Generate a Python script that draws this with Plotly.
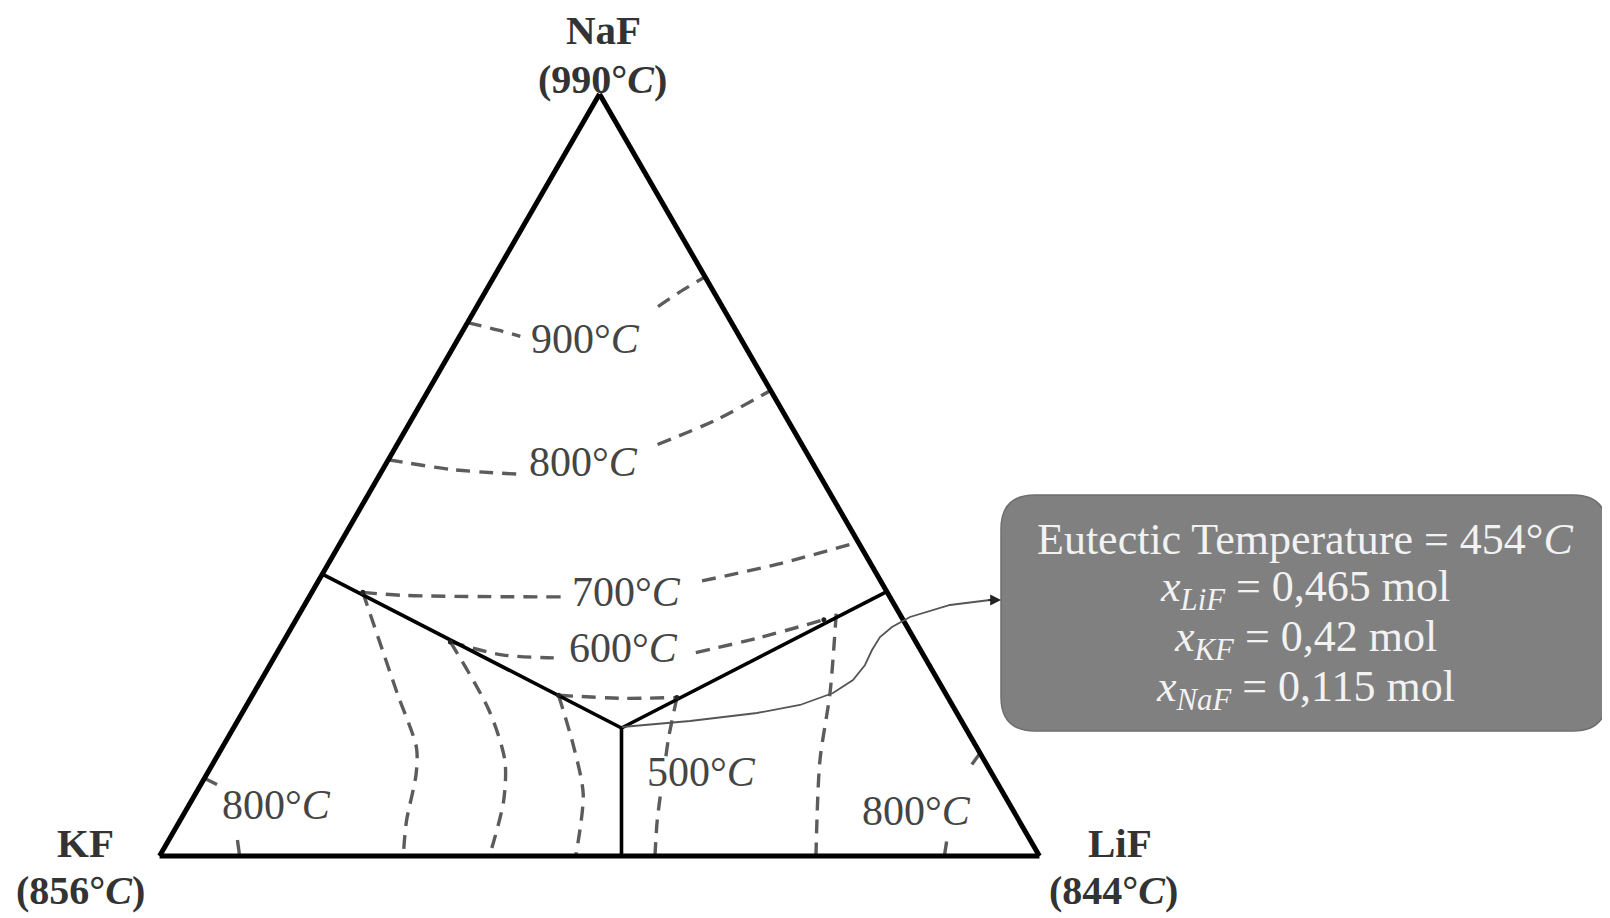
import plotly.graph_objects as go

# The page body has an 8 px margin, so the figure is drawn 8 px in from the window corner.
OFF = 8
W, H = 1610 - OFF, 918 - OFF

# ---------------- data (mole fractions) ----------------
# Each line: NaF fraction (top apex) and LiF fraction (right apex); KF is the remainder.
# Solid phase-field boundaries
bnd_left_naf = [0.370, 0.168]
bnd_left_lif = [0.000, 0.441]
bnd_right_naf = [0.347, 0.168]
bnd_right_lif = [0.653, 0.441]
bnd_bottom_naf = [0.168, 0.000]
bnd_bottom_lif = [0.441, 0.525]

# Dashed isotherms in the NaF field (None = gap behind the label)
iso900_naf = [0.700, 0.690, 0.682, None, 0.721, 0.740, 0.760]
iso900_lif = [0.000, 0.040, 0.069, None, 0.206, 0.221, 0.240]
iso800_naf = [0.520, 0.507, 0.501, None, 0.540, 0.572, 0.611]
iso800_lif = [0.000, 0.080, 0.159, None, 0.296, 0.346, 0.389]
iso700_naf = [0.346, 0.342, 0.340, None, 0.361, 0.383, 0.412]
iso700_lif = [0.058, 0.107, 0.287, None, 0.436, 0.511, 0.588]
iso600_naf = [0.281, 0.264, 0.260, None, 0.267, 0.286, 0.310]
iso600_lif = [0.190, 0.257, 0.318, None, 0.476, 0.537, 0.600]
iso_v_naf = [0.211, 0.207, 0.208]
iso_v_lif = [0.348, 0.420, 0.484]

# Dashed isotherms in the KF field
kf1_naf = [0.346, 0.214, 0.142, 0.107, 0.045, 0.000]
kf1_lif = [0.058, 0.163, 0.221, 0.238, 0.258, 0.277]
kf2_naf = [0.281, 0.191, 0.125, 0.072, 0.000]
kf2_lif = [0.190, 0.279, 0.330, 0.355, 0.375]
kf3_naf = [0.211, 0.142, 0.081, 0.000]
kf3_lif = [0.348, 0.400, 0.441, 0.473]
kf800_naf = [0.102, 0.090, None, 0.021, 0.000]
kf800_lif = [0.000, 0.027, None, 0.078, 0.091]

# Dashed isotherms in the LiF field
lif1_naf = [0.208, 0.155, 0.131, None, 0.078, 0.045, 0.000]
lif1_lif = [0.484, 0.501, 0.510, None, 0.530, 0.543, 0.563]
lif2_naf = [0.318, 0.214, 0.125, 0.000]
lif2_lif = [0.610, 0.655, 0.688, 0.746]
lif800_naf = [0.135, 0.111, None, 0.019, 0.000]
lif800_lif = [0.865, 0.862, None, 0.885, 0.892]

# Junction points of isotherms on the boundaries
junction_naf = [0.346, 0.281, 0.211, 0.208, 0.310]
junction_lif = [0.058, 0.190, 0.348, 0.484, 0.600]

# Text
vertex_names = ["NaF", "KF", "LiF"]
vertex_temps = ["990", "856", "844"]
isotherm_labels = ["900", "800", "700", "600", "500", "800", "800"]
eutectic_temp = "454"
eutectic_x = {"LiF": "0,465", "KF": "0,42", "NaF": "0,115"}


# ---------------- helpers (window pixels -> paper fractions) ----------------
def px(x):
    return (x - OFF) / W


def py(y):
    return 1 - (y - OFF) / H


def kf_of(naf, lif):
    return [None if (n is None or l is None) else round(1 - n - l, 4) for n, l in zip(naf, lif)]


fig = go.Figure()

DASH_STYLE = dict(color="#5c5c5c", width=3.4, dash="14px,9px", shape="spline", smoothing=0.8)
SOLID_STYLE = dict(color="black", width=3.6)


def add_line(naf, lif, style):
    fig.add_trace(go.Scatterternary(
        a=naf, b=kf_of(naf, lif), c=lif, mode="lines", line=style,
        hoverinfo="skip", showlegend=False, connectgaps=False,
    ))


for naf, lif in [(iso900_naf, iso900_lif), (iso800_naf, iso800_lif), (iso700_naf, iso700_lif),
                 (iso600_naf, iso600_lif), (iso_v_naf, iso_v_lif),
                 (kf1_naf, kf1_lif), (kf2_naf, kf2_lif), (kf3_naf, kf3_lif), (kf800_naf, kf800_lif),
                 (lif1_naf, lif1_lif), (lif2_naf, lif2_lif), (lif800_naf, lif800_lif)]:
    add_line(naf, lif, DASH_STYLE)

for naf, lif in [(bnd_left_naf, bnd_left_lif), (bnd_right_naf, bnd_right_lif),
                 (bnd_bottom_naf, bnd_bottom_lif)]:
    add_line(naf, lif, SOLID_STYLE)

fig.add_trace(go.Scatterternary(
    a=junction_naf, b=kf_of(junction_naf, junction_lif), c=junction_lif, mode="markers",
    marker=dict(color="#222222", size=5), hoverinfo="skip", showlegend=False,
))

axis_style = dict(showline=True, linecolor="black", linewidth=5, showgrid=False,
                  showticklabels=False, ticks="", title=dict(text=""))

# triangle placement (window pixels): left 159.5, right 1039.5, top 94, base 856
fig.update_layout(
    width=W, height=H,
    margin=dict(l=0, r=0, t=0, b=0),
    paper_bgcolor="white",
    showlegend=False,
    ternary=dict(
        sum=1,
        domain=dict(x=[px(159.5), px(1039.5)], y=[py(856), py(94)]),
        bgcolor="white",
        aaxis=axis_style, baxis=axis_style, caxis=axis_style,
    ),
)

FONT = "Liberation Serif"
annotations = []


def label(text, x, y, size=42, color="#454545"):
    annotations.append(dict(
        text=text, x=px(x), y=py(y), xref="paper", yref="paper", showarrow=False,
        xanchor="center", yanchor="middle", font=dict(family=FONT, size=size, color=color),
    ))


# vertex labels
vertex_pos = [((603, 30), (602, 80)), ((85, 843), (80, 890)), ((1120, 843), (1113, 890))]
for name, temp, (p1, p2) in zip(vertex_names, vertex_temps, vertex_pos):
    label(f"<b>{name}</b>", *p1, size=41, color="#333333")
    label(f"<b>({temp}°<i>C</i>)</b>", *p2, size=40, color="#333333")

# isotherm labels
iso_pos = [(585, 339), (583, 462), (626, 592), (623, 648), (701, 772), (276, 805), (916, 811)]
for t, (x, y) in zip(isotherm_labels, iso_pos):
    label(f"{t}°<i>C</i>", x, y)

# eutectic info box
bx0, bx1, by0, by1, r = 1001, 1607, 495, 731, 34
box_path = (
    f"M {px(bx0 + r)},{py(by0)} L {px(bx1 - r)},{py(by0)} "
    f"Q {px(bx1)},{py(by0)} {px(bx1)},{py(by0 + r)} L {px(bx1)},{py(by1 - r)} "
    f"Q {px(bx1)},{py(by1)} {px(bx1 - r)},{py(by1)} L {px(bx0 + r)},{py(by1)} "
    f"Q {px(bx0)},{py(by1)} {px(bx0)},{py(by1 - r)} L {px(bx0)},{py(by0 + r)} "
    f"Q {px(bx0)},{py(by0)} {px(bx0 + r)},{py(by0)} Z"
)

# connector from eutectic point to the box
conn = [(622, 727), (690, 721), (757, 713), (800, 705), (833, 693), (853, 680), (865, 665),
        (872, 650), (880, 637), (892, 627), (910, 617), (950, 605), (990, 600)]
conn_path = "M " + " L ".join(f"{px(x)},{py(y)}" for x, y in conn)

fig.update_layout(shapes=[
    dict(type="path", path=conn_path, xref="paper", yref="paper",
         line=dict(color="#555555", width=1.8)),
    dict(type="path", path=box_path, xref="paper", yref="paper",
         fillcolor="#808080", line=dict(color="#6e6e6e", width=1.5)),
])

annotations.append(dict(
    text="", x=px(1001), y=py(600), xref="paper", yref="paper", showarrow=True,
    ax=-14, ay=0, arrowhead=2, arrowsize=1.2, arrowwidth=1.8, arrowcolor="#222222",
))

box_lines = [
    f"Eutectic Temperature = {eutectic_temp}°<i>C</i>",
    f"<i>x<sub>LiF</sub></i> = {eutectic_x['LiF']} mol",
    f"<i>x<sub>KF</sub></i> = {eutectic_x['KF']} mol",
    f"<i>x<sub>NaF</sub></i> = {eutectic_x['NaF']} mol",
]
for i, t in enumerate(box_lines):
    label(t, 1305, 539 + 50 * i, size=44, color="#f2f2f2")

fig.update_layout(annotations=annotations)

fig.write_html("out.html", config=dict(displayModeBar=False))
